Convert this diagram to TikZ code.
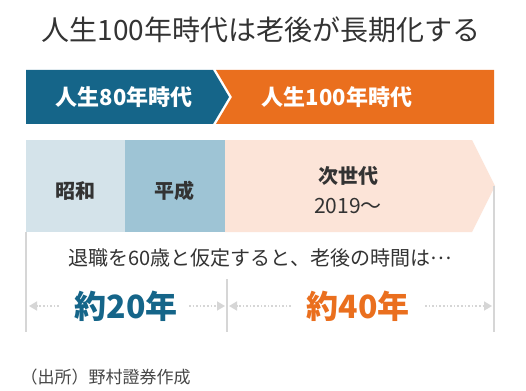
\documentclass[tikz,border=0pt]{standalone}
\usepackage{fontspec}
\setmainfont{Noto Sans CJK JP}
\usetikzlibrary{arrows.meta}
\definecolor{eraBlue}{RGB}{21,101,137}
\definecolor{eraOrange}{RGB}{234,111,30}
\definecolor{showaBg}{RGB}{212,227,234}
\definecolor{heiseiBg}{RGB}{158,196,213}
\definecolor{nextBg}{RGB}{252,228,216}
\definecolor{inkGray}{RGB}{51,51,51}
\definecolor{ruleGray}{RGB}{214,214,214}
\tikzset{
  banner/.style={text=white,font=\fontsize{22}{24}\selectfont\bfseries},
  era/.style={text=inkGray,font=\fontsize{20}{22}\selectfont\bfseries},
  span/.style={ruleGray,line width=1.6pt,dotted,-{Triangle[length=8pt,width=9pt]}},
  years/.style={font=\fontsize{32}{34}\selectfont\bfseries}
}
\begin{document}
\begin{tikzpicture}[x=1pt,y=-1pt]
\useasboundingbox (0,0) rectangle (526,390);
\fill[white] (0,0) rectangle (526,390);
\node[text=inkGray,font=\fontsize{28}{30}\selectfont] (title) at (261,30) {人生100年時代は老後が長期化する};
\fill[eraOrange] (216,70) -- (494,70) -- (494,124) -- (216,124) -- (232,97) -- cycle;
\fill[eraBlue] (26,70) -- (213,70) -- (229,97) -- (213,124) -- (26,124) -- cycle;
\node[banner] (life80) at (124,97) {人生80年時代};
\node[banner] (life100) at (337,97) {人生100年時代};
\fill[showaBg] (26,140) rectangle (125,232);
\fill[heiseiBg] (125,140) rectangle (225,232);
\fill[nextBg] (225,140) -- (472,140) -- (495,186) -- (472,232) -- (225,232) -- cycle;
\node[era] (showa) at (75,191) {昭和};
\node[era] (heisei) at (174,191) {平成};
\node[era] (next) at (348,176) {次世代};
\node[text=inkGray,font=\fontsize{21}{23}\selectfont] (since) at (348,206) {2019～};
\draw[ruleGray,line width=1.8pt] (26,232) -- (26,332);
\draw[ruleGray,line width=1.8pt] (227,279) -- (227,332);
\draw[ruleGray,line width=1.8pt] (494,186) -- (494,332);
\node[text=inkGray,font=\fontsize{20}{22}\selectfont] (note) at (260,258) {退職を60歳と仮定すると、老後の時間は\raisebox{0.3em}{…}};
\node[years,text=eraBlue] (y20) at (126,306) {約20年};
\node[years,text=eraOrange] (y40) at (358,306) {約40年};
\coordinate (a) at (29,306);
\coordinate (b) at (225,306);
\coordinate (c) at (229,306);
\coordinate (d) at (492,306);
\draw[span] (y20.west) ++(-12,0) -- (a);
\draw[span] (y20.east) ++(8,0) -- (b);
\draw[span] (y40.west) ++(-12,0) -- (c);
\draw[span] (y40.east) ++(12,0) -- (d);
\node[anchor=west,text=inkGray!90,font=\fontsize{17}{19}\selectfont] (source) at (17,377) {（出所）野村證券作成};
\end{tikzpicture}
\end{document}
